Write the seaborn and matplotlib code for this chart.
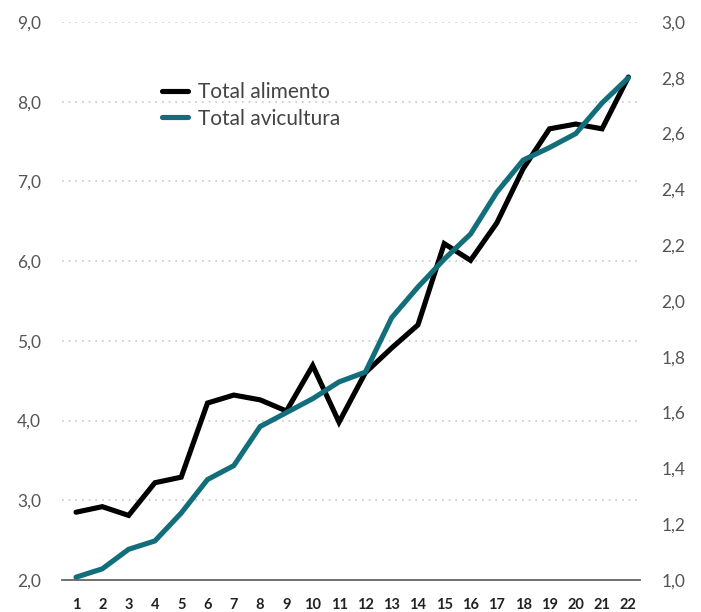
import pandas as pd
import seaborn as sns
import matplotlib.pyplot as plt
from matplotlib.ticker import FuncFormatter

# Datos
periodos = list(range(1, 23))
total_alimento = [2.85, 2.92, 2.81, 3.22, 3.29, 4.22, 4.32, 4.26, 4.12, 4.69, 3.98,
                  4.60, 4.91, 5.20, 6.22, 6.01, 6.48, 7.16, 7.66, 7.72, 7.66, 8.31]
total_avicultura = [1.01, 1.04, 1.11, 1.14, 1.24, 1.36, 1.41, 1.55, 1.60, 1.65, 1.71,
                    1.745, 1.94, 2.05, 2.15, 2.24, 2.39, 2.505, 2.55, 2.60, 2.71, 2.80]

df = pd.DataFrame({'periodo': periodos,
                   'alimento': total_alimento,
                   'avicultura': total_avicultura})

sns.set_style("white")
plt.rcParams['font.family'] = ['Lato', 'DejaVu Sans']

gris = "#555555"
negro = "#000000"
verde = "#126e7b"

fig = plt.figure(figsize=(7.01, 6.12), dpi=100)
ax = fig.add_axes([0.0884, 0.0523, 0.8251, 0.9117])
ax2 = ax.twinx()

sns.lineplot(data=df, x='periodo', y='alimento', ax=ax, color=negro, linewidth=3.7,
             solid_capstyle='round', solid_joinstyle='miter', label='Total alimento', legend=False)
sns.lineplot(data=df, x='periodo', y='avicultura', ax=ax2, color=verde, linewidth=3.7,
             solid_capstyle='round', solid_joinstyle='miter', label='Total avicultura', legend=False)

ax.set_xlim(0.467, 22.456)
ax.set_ylim(2.0, 9.0)
ax2.set_ylim(1.0, 3.0)

ax.set_yticks([2, 3, 4, 5, 6, 7, 8, 9])
ax2.set_yticks([1.0, 1.2, 1.4, 1.6, 1.8, 2.0, 2.2, 2.4, 2.6, 2.8, 3.0])
coma = FuncFormatter(lambda v, p: f"{v:.1f}".replace('.', ','))
ax.yaxis.set_major_formatter(coma)
ax2.yaxis.set_major_formatter(coma)
ax.set_xticks(periodos)

ax.set_xlabel("")
ax.set_ylabel("")
ax2.set_ylabel("")

# rejilla punteada solo del eje izquierdo
for v in [3, 4, 5, 6, 7, 8, 9]:
    ax.axhline(v, color="#c8c8c8", linestyle=(0, (1, 3)), linewidth=1.2, zorder=0)

for a in (ax, ax2):
    for s in a.spines.values():
        s.set_visible(False)
ax.spines['bottom'].set_visible(True)
ax.spines['bottom'].set_color("#666666")
ax.spines['bottom'].set_linewidth(1.3)

ax.tick_params(axis='y', length=0, pad=15, labelsize=12.5, labelcolor=gris)
ax2.tick_params(axis='y', length=0, pad=15, labelsize=12.5, labelcolor=gris)
ax.tick_params(axis='x', length=0, pad=13, labelsize=10.5, labelcolor="#222222")
for t in ax.get_xticklabels():
    t.set_fontweight('bold')

h1, l1 = ax.get_legend_handles_labels()
h2, l2 = ax2.get_legend_handles_labels()
leg = ax2.legend(h1 + h2, l1 + l2, loc='upper left', bbox_to_anchor=(0.159, 0.907),
                 frameon=False, fontsize=15, handlelength=1.25, handletextpad=0.45,
                 labelspacing=0.3, borderaxespad=0)
for t in leg.get_texts():
    t.set_color("#444444")

fig.savefig("out.png", dpi=100)
